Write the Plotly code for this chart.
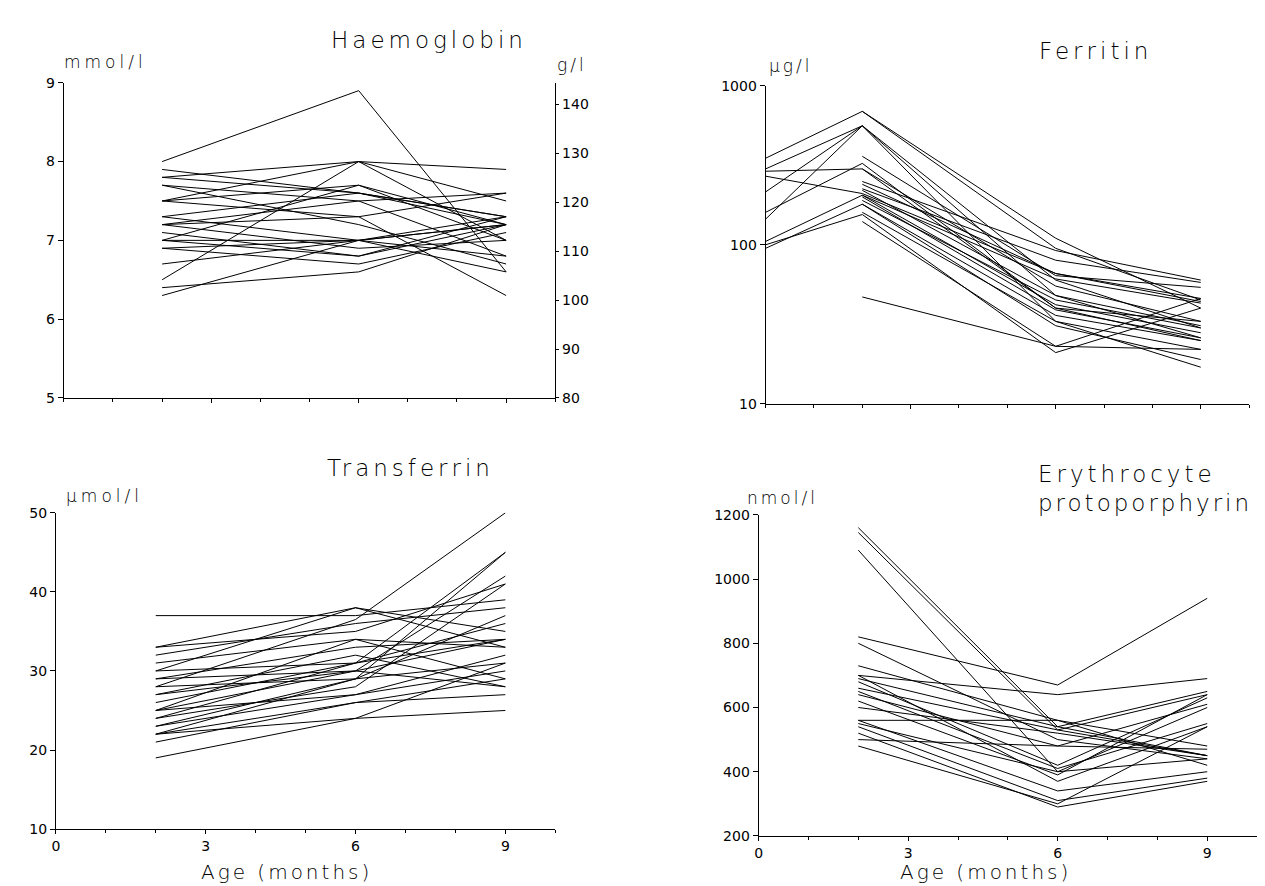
import plotly.graph_objects as go

# ---------------- data ----------------
hb_months = [2, 6, 9]
hb_mmol = [
    [8.0, 8.9, 6.6], [7.9, 7.6, 7.3], [7.8, 8.0, 7.9], [7.7, 7.5, 7.6],
    [7.5, 8.0, 7.5], [7.5, 7.7, 7.2], [7.3, 7.6, 7.3], [7.3, 7.0, 7.2],
    [7.2, 7.5, 6.8], [7.2, 7.3, 7.6], [7.1, 6.8, 7.2], [7.0, 7.7, 7.0],
    [7.0, 7.0, 7.3], [6.9, 7.0, 6.8], [6.9, 6.7, 7.1], [7.0, 6.8, 7.3],
    [6.7, 7.0, 6.6], [6.5, 8.0, 7.0], [6.4, 6.6, 7.2], [6.3, 7.0, 7.2],
    [7.5, 7.3, 6.3], [7.8, 7.6, 7.2], [7.2, 6.9, 7.0], [7.7, 7.2, 6.7],
]
hb_gl_factor = 16.11
hb_right_ticks = [80, 90, 100, 110, 120, 130, 140]

fer_months = [0, 2, 6, 9]
ferritin = [
    [350, 690, 95, 45], [300, 560, 60, 30], [290, 300, 40, 33], [270, 210, 66, 46],
    [215, 560, 48, 26], [160, 325, 40, 25], [145, 560, 33, 22], [105, 205, 61, 43],
    [95, 180, 31, 19], [100, 155, 21, 40],
    [None, 690, 110, 40], [None, 360, 64, 54], [None, 250, 92, 60], [None, 225, 80, 58],
    [None, 220, 48, 31], [None, 200, 39, 26], [None, 190, 45, 30], [None, 180, 36, 25],
    [None, 160, 33, 17], [None, 140, 23, 22], [None, 47, 23, 46], [None, 240, 66, 44],
    [None, 300, 55, 33], [None, 205, 42, 28],
]
fer_ticks = [10, 100, 1000]

tf_months = [2, 6, 9]
transferrin = [
    [37, 37, 39], [33, 38, 33], [33, 35, 41], [32, 36, 38], [31, 34, 33],
    [30, 38, 35], [30, 31, 45], [29, 33, 34], [29, 30, 34], [28, 36.5, 50],
    [28, 29, 31], [27, 30, 42], [26, 31, 36], [25, 30, 28], [25, 27, 30],
    [24, 31, 34], [24, 28, 41], [23, 29, 45], [23, 27, 32], [22, 26, 27],
    [22, 29, 37], [21, 26, 29], [19, 24, 25], [22, 24, 31], [25, 34, 29],
    [27, 32, 28],
]

ep_months = [2, 6, 9]
protoporphyrin = [
    [1160, 540, 450], [1145, 530, 640], [1090, 400, 600], [820, 670, 940],
    [800, 500, 440], [730, 560, 480], [700, 640, 690], [690, 540, 650],
    [680, 420, 630], [650, 410, 550], [640, 480, 610], [600, 520, 450],
    [560, 560, 420], [560, 340, 400], [550, 400, 440], [540, 310, 380],
    [520, 290, 370], [500, 480, 470], [480, 300, 540], [620, 390, 640],
    [660, 530, 450], [700, 370, 540],
]

x_major_top = [3, 6, 9]
x_major_bottom = [0, 3, 6, 9]

# ---------------- figure ----------------
W, H = 1265, 886
def px_x(p):
    return p / W
def px_y(p):
    return 1 - p / H

fig = go.Figure()
line_style = dict(color="black", width=1)

for s in hb_mmol:
    fig.add_trace(go.Scatter(x=hb_months, y=s, mode="lines", line=line_style,
                             xaxis="x", yaxis="y", showlegend=False, hoverinfo="skip"))
# invisible trace to activate right-hand g/l axis
fig.add_trace(go.Scatter(x=[0], y=[100], mode="markers", marker=dict(opacity=0),
                         xaxis="x", yaxis="y5", showlegend=False, hoverinfo="skip"))
for s in ferritin:
    fig.add_trace(go.Scatter(x=fer_months, y=s, mode="lines", line=line_style,
                             xaxis="x2", yaxis="y2", showlegend=False, hoverinfo="skip"))
for s in transferrin:
    fig.add_trace(go.Scatter(x=tf_months, y=s, mode="lines", line=line_style,
                             xaxis="x3", yaxis="y3", showlegend=False, hoverinfo="skip"))
for s in protoporphyrin:
    fig.add_trace(go.Scatter(x=ep_months, y=s, mode="lines", line=line_style,
                             xaxis="x4", yaxis="y4", showlegend=False, hoverinfo="skip"))

tick_font = dict(family="DejaVu Sans", size=14, color="black")
common_axis = dict(showline=True, linecolor="black", linewidth=1, showgrid=False,
                   zeroline=False, ticks="outside", tickcolor="black", ticklen=5,
                   tickfont=tick_font)
minor_x = dict(ticks="outside", ticklen=3, tickcolor="black", tickmode="linear",
               tick0=0, dtick=1)

def xaxis(dom, anchor, labels):
    d = dict(common_axis)
    d.update(domain=dom, anchor=anchor, range=[0, 10], tickmode="array",
             tickvals=x_major_bottom if labels else x_major_top,
             showticklabels=labels, minor=minor_x, ticklen=4)
    return d

layout = dict(
    width=W, height=H, margin=dict(l=0, r=0, t=0, b=0),
    paper_bgcolor="white", plot_bgcolor="white", showlegend=False,
    xaxis=xaxis([px_x(52), px_x(545)], "y", False),
    xaxis2=xaxis([px_x(756), px_x(1241)], "y2", False),
    xaxis3=xaxis([px_x(44), px_x(545)], "y3", True),
    xaxis4=xaxis([px_x(749), px_x(1249)], "y4", True),
)
y1 = dict(common_axis); y1.update(domain=[px_y(389), px_y(68)], anchor="x", range=[5, 9],
                                  tickmode="linear", tick0=5, dtick=1)
y5 = dict(common_axis); y5.update(anchor="x", overlaying="y", side="right",
                                  range=[80, 80 + 4 * hb_gl_factor],
                                  tickmode="array", tickvals=hb_right_ticks, ticklen=3)
y2 = dict(common_axis); y2.update(domain=[px_y(395), px_y(71)], anchor="x2", type="log",
                                  range=[1, 3], tickmode="array", tickvals=fer_ticks)
y3 = dict(common_axis); y3.update(domain=[px_y(828), px_y(506)], anchor="x3", range=[10, 50],
                                  tickmode="linear", tick0=10, dtick=10)
y4 = dict(common_axis); y4.update(domain=[px_y(835), px_y(508)], anchor="x4", range=[200, 1200],
                                  tickmode="linear", tick0=200, dtick=200)
layout.update(yaxis=y1, yaxis5=y5, yaxis2=y2, yaxis3=y3, yaxis4=y4)
fig.update_layout(**layout)

title_font = dict(family="DejaVu Sans", size=23, color="black", weight=200)
unit_font = dict(family="DejaVu Sans", size=17, color="black", weight=200)
age_font = dict(family="DejaVu Sans", size=20, color="black", weight=200)

def ann(text, x, y, font, xanchor="center", spacing=0):
    if spacing:
        text = '<span style="letter-spacing:%dpx">%s</span>' % (spacing, text)
    fig.add_annotation(text=text, x=px_x(x), y=px_y(y), xref="paper", yref="paper",
                       showarrow=False, xanchor=xanchor, yanchor="middle", font=font)

ann("Haemoglobin", 418, 24, title_font, spacing=4)
ann("mmol/l", 50, 47, unit_font, "left", spacing=4)
ann("g/l", 545, 50, unit_font, "left", spacing=3)
ann("Ferritin", 1087, 36, title_font, spacing=4)
ann("\u00b5g/l", 757, 51, unit_font, "left", spacing=3)
ann("Transferrin", 400, 460, title_font, spacing=4)
ann("\u00b5mol/l", 52, 489, unit_font, "left", spacing=4)
ann("Erythrocyte", 1027, 466, title_font, "left", spacing=4)
ann("protoporphyrin", 1027, 496, title_font, "left", spacing=3)
ann("nmol/l", 735, 491, unit_font, "left", spacing=3)
ann("Age (months)", 275, 872, age_font, spacing=3)
ann("Age (months)", 977, 872, age_font, spacing=3)

fig.write_html("out.html")
